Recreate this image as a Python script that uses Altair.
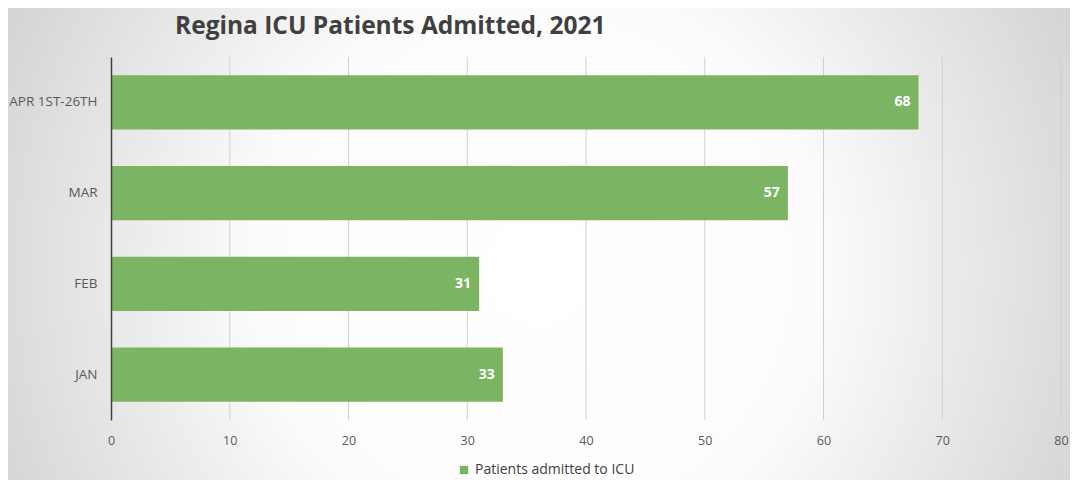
import altair as alt
import pandas as pd

# ---- data ----
categories = ["APR 1ST-26TH", "MAR", "FEB", "JAN"]
values = [68, 57, 31, 33]
series_name = "Patients admitted to ICU"
x_ticks = [0, 10, 20, 30, 40, 50, 60, 70, 80]
title_text = "Regina ICU Patients Admitted, 2021"

df = pd.DataFrame({"month": categories, "patients": values,
                   "series": [series_name] * len(categories)})
grid_df = pd.DataFrame({"tick": x_ticks[1:]})
one_df = pd.DataFrame({"k": [0]})

W, H = 950, 363
PAD = {"left": 103, "top": 49, "right": 9, "bottom": 60}
FONT = "Open Sans"
BAR = "#77b25e"

grad = alt.RadialGradient(
    gradient="radial", x1=0.5, y1=0.5, r1=0, x2=0.5, y2=0.5, r2=0.75,
    stops=[
        alt.GradientStop(color="#ffffff", offset=0),
        alt.GradientStop(color="#fcfcfc", offset=0.35),
        alt.GradientStop(color="#d6d6d6", offset=0.72),
        alt.GradientStop(color="#c8c8c8", offset=1),
    ],
)

bg = alt.Chart(one_df).mark_rect(fill=grad).encode(
    x=alt.value(-PAD["left"]), x2=alt.value(W + PAD["right"]),
    y=alt.value(-200), y2=alt.value(H + 260),
)

title = alt.Chart(one_df).mark_text(
    text=title_text, align="left", baseline="alphabetic", fontSize=24.5,
    fontWeight="bold", color="#404040", font=FONT
).encode(x=alt.value(64), y=alt.value(-23))

xscale = alt.Scale(domain=[0, 80], nice=False)
xaxis = alt.Axis(values=x_ticks, title=None, grid=False, domain=False,
                 ticks=False, labelPadding=14, labelFontSize=12.5,
                 labelFlush=False, labelColor="#595959", labelFont=FONT,
                 zindex=1)

grid = alt.Chart(grid_df).mark_rule(color="#d0d0d0", strokeWidth=1).encode(
    x=alt.X("tick:Q", scale=xscale, axis=xaxis)
)

ysort = categories
bars = alt.Chart(df).mark_bar(opacity=0.97).encode(
    x=alt.X("patients:Q", scale=xscale, axis=xaxis),
    y=alt.Y("month:N", sort=ysort,
            scale=alt.Scale(paddingInner=0.4, paddingOuter=0.2),
            axis=alt.Axis(title=None, ticks=False, domainColor="#404040",
                          domainWidth=1.5, labelPadding=14, labelFontSize=13.5,
                          labelColor="#595959", labelFont=FONT, zindex=1)),
    color=alt.Color("series:N", scale=alt.Scale(range=[BAR]),
                    legend=alt.Legend(title=None, orient="none", legendX=336,
                                      legendY=396, symbolType="square",
                                      symbolSize=70, symbolStrokeWidth=0,
                                      fillColor="rgba(255,255,255,0.45)",
                                      padding=10, labelFontSize=14,
                                      labelOffset=4,
                                      labelColor="#404040", labelFont=FONT)),
)

labels = alt.Chart(df).mark_text(
    align="right", dx=-8, color="white", fontWeight="bold", fontSize=14,
    font=FONT
).encode(
    x=alt.X("patients:Q", scale=xscale, axis=xaxis),
    y=alt.Y("month:N", sort=ysort),
    text="patients:Q",
)

chart = alt.layer(bg, grid, bars, labels, title).properties(
    width=W, height=H, padding=PAD, autosize=alt.AutoSizeParams(type="none"),
).configure_view(stroke=None).configure(background="#d6d6d6")

chart.save("out.html", embed_options={"renderer": "svg", "actions": False})
